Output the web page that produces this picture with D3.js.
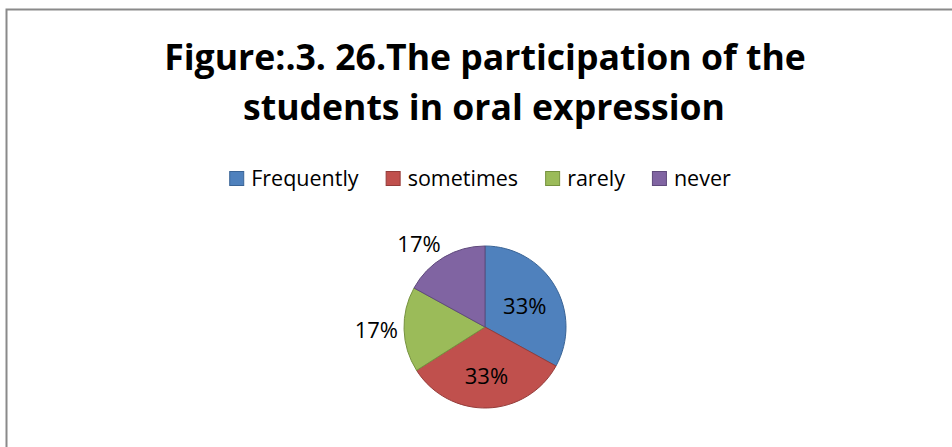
<!DOCTYPE html>
<html>
<head>
<meta charset="utf-8">
<script src="https://cdn.jsdelivr.net/npm/d3@7"></script>
<style>
  html, body { margin: 0; padding: 0; background: #fff; }
  svg { display: block; }
  text { font-family: "Open Sans", "Noto Sans", sans-serif; fill: #000; }
</style>
</head>
<body>
<script>
// Survey answers: how often students take part in oral expression (percent)
const categories = ["Frequently", "sometimes", "rarely", "never"];
const values = [33, 33, 17, 17];
const colors = ["#4F81BD", "#C0504D", "#9BBB59", "#8064A2"];
const edgeColors = ["#3A6496", "#943C3A", "#76923F", "#5F4A7C"];
const titleLines = ["Figure:.3. 26.The participation of the", "students in oral expression"];

const W = 952, H = 447;
const cx = 485;

const svg = d3.select("body").append("svg")
  .attr("width", W).attr("height", H);

svg.append("rect").attr("width", W).attr("height", H).attr("fill", "#fff");

// chart frame (only its top and left edges fall inside the view)
svg.append("rect")
  .attr("x", 6.5).attr("y", 9.5)
  .attr("width", W + 20).attr("height", H + 20)
  .attr("fill", "none")
  .attr("stroke", "#8a8a8a")
  .attr("stroke-width", 2);

// title, scaled so the first line spans its intended width
const title = svg.append("g");
const t1 = title.append("text").text(titleLines[0])
  .attr("font-weight", "bold").attr("font-size", 36);
const fs = 36 * 642 / t1.node().getComputedTextLength();
t1.attr("font-size", fs).attr("x", 485).attr("y", 70).attr("text-anchor", "middle");
title.append("text").text(titleLines[1])
  .attr("font-weight", "bold").attr("font-size", fs)
  .attr("x", 484).attr("y", 120).attr("text-anchor", "middle");

// legend row
const legend = svg.append("g");
const legendFont = 21.5;
const sq = 15, sqGap = 7, itemGap = 27;
const items = categories.map((c, i) => {
  const g = legend.append("g");
  g.append("rect").attr("width", sq - 1).attr("height", sq - 1)
    .attr("x", 0.5).attr("y", -sq / 2 + 0.5)
    .attr("fill", colors[i]).attr("stroke", edgeColors[i]).attr("stroke-width", 1);
  const t = g.append("text").text(c)
    .attr("x", sq + sqGap).attr("y", 0).attr("dy", "0.35em")
    .attr("font-size", legendFont);
  return { g, w: sq + sqGap + t.node().getComputedTextLength() };
});
const totalW = d3.sum(items, d => d.w) + itemGap * (items.length - 1);
let lx = 480 - totalW / 2;
items.forEach(it => {
  it.g.attr("transform", `translate(${lx},178.5)`);
  lx += it.w + itemGap;
});

// pie
const r = 81;
const cy = 327;
const pie = d3.pie().sort(null).value(d => d)(values);
const arc = d3.arc().innerRadius(0).outerRadius(r);
const pg = svg.append("g").attr("transform", `translate(${cx},${cy})`);

pg.selectAll("path").data(pie).join("path")
  .attr("d", arc)
  .attr("fill", (d, i) => colors[i])
  .attr("stroke", (d, i) => edgeColors[i])
  .attr("stroke-width", 1)
  .attr("stroke-linejoin", "round");

// labels: large slices inside, small slices just outside their edge
const total = d3.sum(values);
const labelFont = 22;
const halfH = labelFont * 0.36;
const inner = d3.arc().innerRadius(r * 0.57).outerRadius(r * 0.57);
const clampDir = v => Math.sign(v) * Math.min(1, Math.abs(v) / 0.3);

pg.selectAll("text.lbl").data(pie).join("text")
  .attr("class", "lbl")
  .attr("text-anchor", "middle")
  .attr("dy", "0.36em")
  .attr("font-size", labelFont)
  .text(d => Math.round(d.value / total * 100) + "%")
  .each(function(d) {
    const sel = d3.select(this);
    let x, y;
    if (d.value / total >= 0.25) {
      [x, y] = inner.centroid(d);
      y += 3;
    } else {
      const mid = (d.startAngle + d.endAngle) / 2;
      const dx = Math.sin(mid), dy = -Math.cos(mid);
      const halfW = this.getComputedTextLength() / 2;
      x = (r + 6) * dx + halfW * clampDir(dx);
      y = (r + 6) * dy + halfH * clampDir(dy);
    }
    sel.attr("x", x).attr("y", y);
  });
</script>
</body>
</html>
